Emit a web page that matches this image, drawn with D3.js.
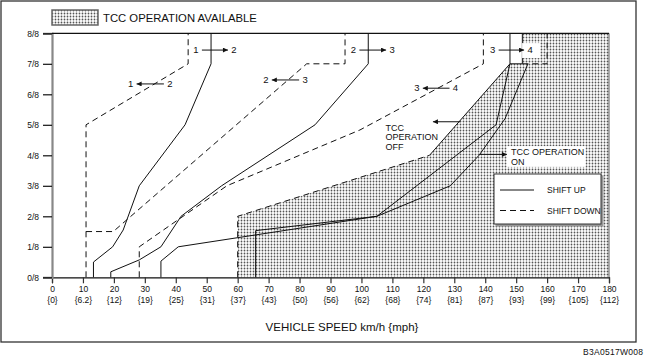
<!DOCTYPE html>
<html><head><meta charset="utf-8">
<script src="https://cdn.jsdelivr.net/npm/d3@7"></script>
<style>
html,body{margin:0;padding:0;background:#fff;}
svg text{font-family:"Liberation Sans",Arial,Helvetica,sans-serif;fill:#111;}
</style></head>
<body>
<svg id="c" width="645" height="362"></svg>
<script>
// ---- data ----
const speedTicks = [0,10,20,30,40,50,60,70,80,90,100,110,120,130,140,150,160,170,180];
const mphLabels = ["{0}","{6.2}","{12}","{19}","{25}","{31}","{37}","{43}","{50}","{56}","{62}","{68}","{74}","{81}","{87}","{93}","{99}","{105}","{112}"];
const throttleTicks = [0,1,2,3,4,5,6,7,8];
const throttleLabels = ["0/8","1/8","2/8","3/8","4/8","5/8","6/8","7/8","8/8"];

const up12   = [[13.4,0],[13.4,0.5],[19.6,1],[23,1.55],[28.2,3],[43,5],[51.4,7],[51.4,8]];
const down12 = [[11,0],[11,5],[44,7],[44,8]];
const up23   = [[19,0],[19,0.18],[28.2,0.57],[35.2,1],[41.7,2],[54.8,3],[85,5],[102.2,7],[102.2,8]];
const down23 = [[11,1.5],[19.8,1.5],[82.3,7],[94.7,7],[94.7,8]];
const up34   = [[35.2,0],[35.2,0.53],[40.8,1],[105,2],[143.5,5],[148,7],[148,8]];
const down34 = [[28.2,0],[28.2,1],[56.5,3],[99.5,4.83],[139.4,7],[139.4,8]];
const tccOn  = [[65.8,0],[65.8,1.53],[105,2],[128.7,3],[138,4],[146.4,5.2],[153.8,7]];
const tccOnTop = [[152,7],[160,7],[160,8]];
const tccOffDash  = [[60,0],[60,2],[122,4]];
const tccOffSolid = [[122,4],[148,7],[152,7],[152,8]];
const tccArea = [[60,0],[60,2],[122,4],[148,7],[152,7],[152,8],[180,8],[180,0]];

// shift labels: [left number, right number, left x, right x, y, direction]
const shiftLabels = [
  ["1","2",46.5,58.8,7.45,"right"],
  ["1","2",25.4,38.1,6.34,"left"],
  ["2","3",69.1,81.8,6.47,"left"],
  ["2","3",97.4,109.9,7.45,"right"],
  ["3","4",117.9,130.4,6.2,"left"],
  ["3","4",142.4,154.5,7.45,"right"]
];

// ---- drawing ----
const svg = d3.select("#c");
const x = d3.scaleLinear().domain([0,180]).range([52,609]);
const y = d3.scaleLinear().domain([0,8]).range([277.3,33.3]);
const line = d3.line().x(d=>x(d[0])).y(d=>y(d[1]));

const defs = svg.append("defs");
const pat = defs.append("pattern").attr("id","dots").attr("width",3).attr("height",3).attr("patternUnits","userSpaceOnUse");
pat.append("rect").attr("width",3).attr("height",3).attr("fill","#fff");
pat.append("circle").attr("cx",1.5).attr("cy",1.5).attr("r",0.9).attr("fill","#555");
const mk = defs.append("marker").attr("id","ah").attr("viewBox","0 0 10 10").attr("refX",10).attr("refY",5)
  .attr("markerWidth",7).attr("markerHeight",5).attr("markerUnits","userSpaceOnUse").attr("orient","auto");
mk.append("path").attr("d","M0,0L10,5L0,10Z").attr("fill","#111");

// outer frame
svg.append("rect").attr("x",1).attr("y",1).attr("width",635).attr("height",341)
  .attr("fill","none").attr("stroke","#333").attr("stroke-width",1.3);

// TCC area
svg.append("path").attr("d", line(tccArea)+"Z").attr("fill","url(#dots)").attr("stroke","none");
svg.append("line").attr("x1",x(180)).attr("x2",x(180)).attr("y1",y(0)).attr("y2",y(8)).attr("stroke","#333").attr("stroke-width",0.8);

// axes
const gx = svg.append("g").attr("transform",`translate(0,${y(0)})`)
  .call(d3.axisBottom(x).tickValues(speedTicks).tickSize(6).tickFormat(d=>d));
gx.select(".domain").attr("stroke","#111").attr("stroke-width",1.2);
gx.selectAll(".tick line").attr("stroke","#333").attr("stroke-width",1.2);
gx.selectAll(".tick text").attr("font-size","8.5px").attr("y",9).attr("font-family","Liberation Sans, Arial, sans-serif");
gx.selectAll(".tick").append("text").attr("y",20).attr("dy","0.71em").attr("fill","#111")
  .attr("font-size","8.5px").attr("font-family","Liberation Sans, Arial, sans-serif")
  .text((d,i)=>mphLabels[i]);

const gy = svg.append("g").attr("transform",`translate(${x(0)},0)`)
  .call(d3.axisLeft(y).tickValues(throttleTicks).tickSize(9).tickFormat((d,i)=>throttleLabels[i]));
gy.select(".domain").attr("stroke","#888").attr("stroke-width",2.2);
gy.selectAll(".tick line").attr("stroke","#111").attr("stroke-width",1.2);
gy.selectAll(".tick text").attr("font-size","8.5px").attr("x",-13).attr("font-family","Liberation Sans, Arial, sans-serif");
// top border
svg.append("line").attr("x1",x(0)).attr("x2",x(180)).attr("y1",y(8)).attr("y2",y(8)).attr("stroke","#111").attr("stroke-width",1.2);

// shift lines
const solid = [up12, up23, up34, tccOn, tccOffSolid];
const dashed = [down12, down23, down34, tccOffDash, tccOnTop];
svg.selectAll("path.up").data(solid).join("path").attr("class","up").attr("d",line)
  .attr("fill","none").attr("stroke","#111").attr("stroke-width",1);
svg.selectAll("path.dn").data(dashed).join("path").attr("class","dn").attr("d",line)
  .attr("fill","none").attr("stroke","#111").attr("stroke-width",1).attr("stroke-dasharray","6,4");

// shift labels
const lbl = svg.selectAll("g.sl").data(shiftLabels).join("g").attr("class","sl");
lbl.each(function(d){
  const g = d3.select(this);
  const xl = x(d[2]), xr = x(d[3]), yy = y(d[4]);
  if (d[1]==="4" && d[5]==="right") {
    g.append("rect").attr("x",xr-8).attr("y",yy-7).attr("width",18).attr("height",15).attr("fill","#fff");
  }
  g.append("text").attr("x",xl).attr("y",yy+3.2).attr("text-anchor","middle").attr("font-size","9.5px").text(d[0]);
  g.append("text").attr("x",xr).attr("y",yy+3.2).attr("text-anchor","middle").attr("font-size","9.5px").text(d[1]);
  const a = xl+6, b = xr-6;
  g.append("line").attr("x1", d[5]==="right"?a:b).attr("x2", d[5]==="right"?b:a)
    .attr("y1",yy).attr("y2",yy).attr("stroke","#111").attr("stroke-width",1).attr("marker-end","url(#ah)");
});

// TCC OFF label
const offT = svg.append("text").attr("font-size","9px");
["TCC","OPERATION","OFF"].forEach((t,i)=>{
  offT.append("tspan").attr("x",x(107.8)).attr("y",131+i*9.3).text(t);
});
svg.append("line").attr("x1",x(131.9)).attr("x2",x(123.1)).attr("y1",y(5.1)).attr("y2",y(5.1))
  .attr("stroke","#111").attr("stroke-width",1).attr("marker-end","url(#ah)");

// TCC ON label
svg.append("rect").attr("x",x(147)).attr("y",y(4.3)).attr("width",x(172.4)-x(147)).attr("height",y(3.62)-y(4.3)).attr("fill","#fff");
const onT = svg.append("text").attr("font-size","9px");
["TCC OPERATION","ON"].forEach((t,i)=>{
  onT.append("tspan").attr("x",x(148.3)).attr("y",155+i*9.5).text(t);
});
svg.append("line").attr("x1",x(138.3)).attr("x2",x(147)).attr("y1",y(4.03)).attr("y2",y(4.03))
  .attr("stroke","#111").attr("stroke-width",1).attr("marker-end","url(#ah)");

// legend box
svg.append("rect").attr("x",495.5).attr("y",175.5).attr("width",108).attr("height",51).attr("fill","#999");
svg.append("rect").attr("x",494).attr("y",174).attr("width",107).attr("height",50).attr("fill","#fff").attr("stroke","#333").attr("stroke-width",1);
svg.append("line").attr("x1",500).attr("x2",534).attr("y1",190).attr("y2",190).attr("stroke","#111").attr("stroke-width",1);
svg.append("line").attr("x1",500).attr("x2",534).attr("y1",210.5).attr("y2",210.5).attr("stroke","#111").attr("stroke-width",1).attr("stroke-dasharray","6,4");
svg.append("text").attr("x",547).attr("y",193).attr("font-size","8.5px").text("SHIFT UP");
svg.append("text").attr("x",547).attr("y",213.5).attr("font-size","8.5px").text("SHIFT DOWN");

// top legend
svg.append("rect").attr("x",52).attr("y",10).attr("width",46).attr("height",15).attr("fill","url(#dots)").attr("stroke","#666").attr("stroke-width",1.5);
svg.append("text").attr("x",103).attr("y",22).attr("font-size","11.3px").text("TCC OPERATION AVAILABLE");

// axis title and code
svg.append("text").attr("x",342).attr("y",331).attr("text-anchor","middle").attr("font-size","11.5px").text("VEHICLE SPEED km/h {mph}");
svg.append("text").attr("x",643).attr("y",355).attr("text-anchor","end").attr("font-size","8.5px").attr("textLength",60).text("B3A0517W008");
</script>
</body></html>
